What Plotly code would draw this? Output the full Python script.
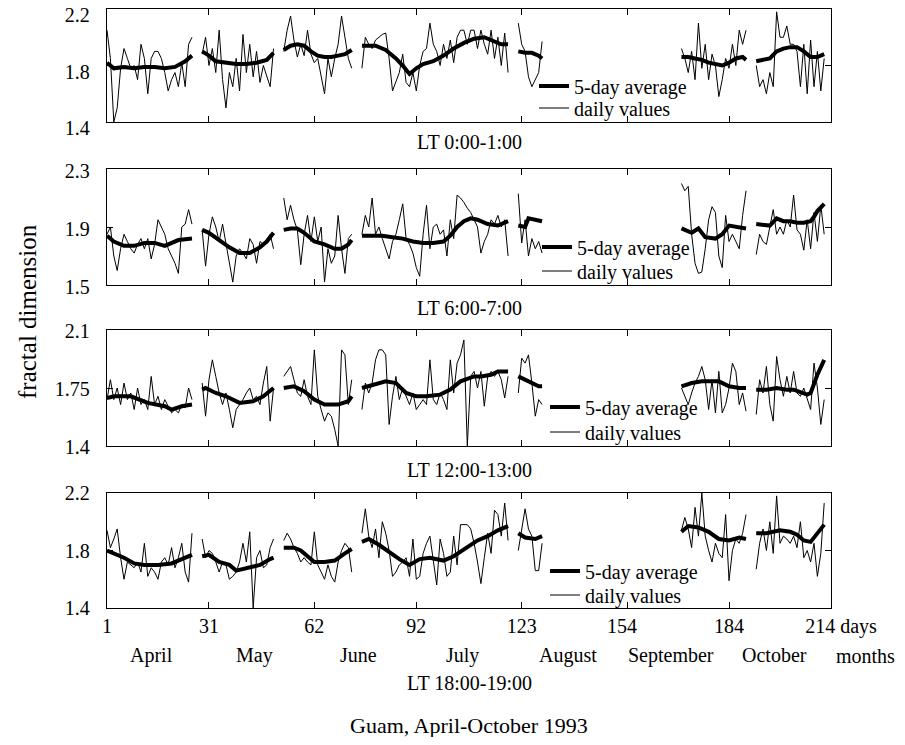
import plotly.graph_objects as go

# ---------------- data ----------------
# observation segments (first day, last day), day 1 = 1 April 1993
SEGMENTS = [(1, 26), (29, 50), (53, 73), (76, 119), (122, 129), (170, 189), (192, 212)]

NB = "\u00a0"
DAY_TICKS = [1, 31, 62, 92, 123, 154, 184, 214]
DAY_TICKTEXT = ["1", "31", "62", "92", "123", "154" + NB * 2, "184", NB * 4 + "214" + NB + "days"]
MONTHS = ["April", "May", "June", "July", "August", "September", "October"]
MONTH_START = [1, 31, 62, 92, 123, 154, 184, 215]
PANEL_TITLES = ["LT 0:00-1:00", "LT 6:00-7:00", "LT 12:00-13:00", "LT 18:00-19:00"]
Y_TICKS = [[1.4, 1.8, 2.2], [1.5, 1.9, 2.3], [1.4, 1.75, 2.1], [1.4, 1.8, 2.2]]
Y_TICKTEXT = [["1.4", "1.8", "2.2"], ["1.5", "1.9", "2.3"], ["1.4", "1.75", "2.1"], ["1.4", "1.8", "2.2"]]

# daily values, LT 0:00-1:00
daily_00 = [
    [2.05, 1.85, 1.40, 1.50, 1.78, 1.92, 1.85, 1.78, 1.80, 1.70, 1.95, 1.85, 1.60, 1.85, 1.90, 1.90, 1.85, 1.75, 1.62, 1.70, 1.75, 1.65, 1.82, 1.65, 1.95, 2.00],
    [1.88, 2.00, 1.80, 1.92, 1.75, 2.05, 1.70, 1.50, 1.75, 1.65, 1.85, 1.62, 2.02, 1.75, 1.95, 1.72, 1.90, 1.68, 1.80, 1.72, 1.65, 1.92],
    [1.90, 2.05, 2.15, 1.98, 1.86, 1.95, 1.87, 2.05, 1.88, 1.82, 1.85, 1.72, 1.60, 1.85, 1.72, 1.85, 1.95, 2.15, 2.00, 1.85, 1.78],
    [1.78, 2.00, 1.95, 1.92, 1.98, 2.00, 2.02, 2.03, 1.85, 1.62, 1.68, 1.75, 1.88, 1.68, 1.65, 1.75, 1.62, 1.80, 1.90, 1.92, 2.10, 1.95, 1.90, 1.80, 1.95, 1.85, 1.98, 1.82, 2.00, 2.05, 2.05, 1.95, 2.05, 2.05, 1.92, 2.05, 1.95, 1.88, 2.05, 1.85, 2.00, 1.80, 2.03, 1.75],
    [2.10, 1.95, 1.90, 1.72, 1.65, 1.70, 1.75, 1.97],
    [1.92, 1.85, 1.75, 1.90, 1.70, 2.10, 1.78, 1.95, 1.70, 1.88, 1.80, 1.58, 1.70, 1.85, 1.78, 1.95, 1.80, 2.05, 1.95, 2.05],
    [1.80, 1.65, 1.70, 1.60, 1.75, 1.65, 2.18, 2.00, 2.00, 2.08, 1.95, 1.95, 1.90, 1.65, 1.95, 1.60, 1.98, 1.65, 1.90, 1.62, 1.85],
]
avg_days_00 = [
    [1, 3, 6, 9, 12, 15, 18, 21, 24, 26],
    [29, 31, 33, 36, 39, 42, 45, 48, 50],
    [53, 55, 57, 59, 61, 63, 65, 67, 69, 71, 73],
    [76, 80, 83, 86, 88, 90, 92, 94, 97, 100, 103, 106, 109, 112, 115, 117, 119],
    [122, 124, 126, 128, 129],
    [170, 172, 174, 176, 178, 180, 182, 184, 186, 188, 189],
    [192, 194, 196, 198, 200, 202, 204, 206, 208, 210, 212],
]
avg_vals_00 = [
    [1.82, 1.78, 1.79, 1.78, 1.79, 1.79, 1.78, 1.79, 1.83, 1.87],
    [1.90, 1.87, 1.83, 1.82, 1.81, 1.81, 1.82, 1.84, 1.89],
    [1.91, 1.94, 1.95, 1.94, 1.90, 1.87, 1.86, 1.86, 1.87, 1.88, 1.91],
    [1.94, 1.94, 1.91, 1.85, 1.80, 1.74, 1.78, 1.81, 1.83, 1.87, 1.92, 1.96, 1.99, 2.00, 1.97, 1.95, 1.95],
    [1.90, 1.89, 1.89, 1.87, 1.85],
    [1.86, 1.86, 1.85, 1.84, 1.82, 1.81, 1.80, 1.82, 1.85, 1.86, 1.84],
    [1.83, 1.84, 1.85, 1.90, 1.92, 1.93, 1.93, 1.90, 1.86, 1.86, 1.88],
]

# LT 6:00-7:00
daily_06 = [
    [1.85, 1.90, 1.70, 1.60, 1.75, 1.85, 1.80, 1.75, 1.72, 1.78, 1.82, 1.75, 1.82, 1.68, 1.78, 1.95, 1.90, 1.85, 1.75, 1.70, 1.65, 1.58, 1.90, 1.92, 2.02, 1.92],
    [1.88, 1.63, 1.85, 1.97, 1.90, 1.80, 1.92, 1.78, 1.65, 1.52, 1.70, 1.75, 1.72, 1.68, 1.82, 1.78, 1.65, 1.80, 1.78, 1.82, 1.85, 1.75],
    [2.10, 1.95, 2.05, 1.95, 1.88, 1.64, 1.85, 1.98, 1.80, 1.97, 1.80, 1.90, 1.52, 1.75, 1.65, 1.70, 1.98, 1.75, 1.58, 1.82, 1.85],
    [1.85, 1.98, 1.90, 2.10, 1.85, 1.90, 1.82, 1.75, 1.68, 1.80, 1.85, 1.95, 2.06, 1.82, 1.78, 1.72, 1.62, 1.56, 1.85, 2.05, 1.75, 1.90, 1.92, 1.85, 1.88, 1.70, 1.95, 1.82, 2.12, 2.10, 2.07, 2.03, 2.00, 1.95, 1.90, 1.72, 1.80, 1.85, 1.95, 1.92, 1.98, 1.90, 1.95, 1.70],
    [2.13, 1.79, 1.95, 1.70, 1.82, 1.75, 1.80, 1.72],
    [2.20, 2.15, 2.18, 1.85, 1.65, 1.58, 1.59, 1.75, 1.95, 2.04, 2.00, 1.70, 1.62, 1.98, 1.80, 1.85, 1.80, 1.75, 1.98, 2.15],
    [1.71, 1.85, 1.80, 1.78, 1.90, 2.02, 1.85, 1.90, 1.85, 1.95, 1.90, 2.12, 1.88, 1.85, 1.74, 1.95, 1.75, 2.00, 1.80, 2.05, 1.85],
]
avg_days_06 = [
    [1, 3, 6, 9, 12, 15, 18, 20, 22, 26],
    [29, 31, 34, 37, 40, 43, 46, 48, 50],
    [53, 55, 57, 59, 62, 65, 68, 70, 72, 73],
    [76, 79, 82, 85, 88, 91, 94, 97, 100, 102, 104, 106, 108, 110, 113, 116, 119],
    [122, 124, 125, 127, 129],
    [170, 172, 173, 175, 177, 180, 182, 184, 186, 188, 189],
    [192, 196, 198, 200, 202, 204, 206, 208, 209, 210, 212],
]
avg_vals_06 = [
    [1.84, 1.80, 1.77, 1.77, 1.79, 1.79, 1.77, 1.79, 1.81, 1.82],
    [1.88, 1.86, 1.81, 1.76, 1.72, 1.72, 1.76, 1.80, 1.86],
    [1.88, 1.89, 1.89, 1.86, 1.80, 1.78, 1.75, 1.75, 1.78, 1.81],
    [1.84, 1.84, 1.84, 1.83, 1.82, 1.80, 1.79, 1.79, 1.80, 1.84, 1.90, 1.94, 1.96, 1.95, 1.92, 1.91, 1.94],
    [1.91, 1.90, 1.96, 1.95, 1.94],
    [1.89, 1.87, 1.86, 1.89, 1.83, 1.82, 1.85, 1.91, 1.90, 1.89, 1.89],
    [1.92, 1.91, 1.96, 1.94, 1.94, 1.93, 1.93, 1.94, 1.97, 2.01, 2.06],
]

# LT 12:00-13:00
daily_12 = [
    [1.68, 1.80, 1.68, 1.75, 1.65, 1.78, 1.68, 1.72, 1.62, 1.75, 1.65, 1.68, 1.62, 1.82, 1.65, 1.70, 1.62, 1.68, 1.64, 1.60, 1.62, 1.60, 1.65, 1.63, 1.75, 1.68],
    [1.78, 1.58, 1.80, 1.92, 1.82, 1.72, 1.65, 1.72, 1.62, 1.51, 1.62, 1.65, 1.68, 1.72, 1.75, 1.68, 1.70, 1.65, 1.78, 1.88, 1.55, 1.75],
    [1.82, 1.85, 1.88, 1.80, 1.72, 1.70, 1.80, 1.70, 1.65, 1.98, 1.70, 1.62, 1.55, 1.60, 1.58, 1.50, 1.40, 1.98, 1.95, 1.65, 1.80],
    [1.62, 1.78, 1.72, 1.78, 1.92, 1.98, 1.98, 1.95, 1.53, 1.70, 1.82, 1.68, 1.75, 1.70, 1.65, 1.72, 1.62, 1.65, 1.68, 1.65, 1.92, 1.68, 1.65, 1.72, 1.68, 1.62, 1.92, 1.72, 1.90, 1.95, 2.04, 1.40, 1.82, 1.85, 1.75, 1.85, 1.64, 1.82, 1.85, 1.82, 1.85, 1.80, 1.69, 1.82],
    [1.72, 1.93, 1.90, 1.95, 1.78, 1.58, 1.68, 1.65],
    [1.75, 1.70, 1.65, 1.72, 1.78, 1.82, 1.88, 1.80, 1.62, 1.80, 1.60, 1.85, 1.60, 1.65, 1.75, 1.90, 1.85, 1.65, 1.72, 1.61],
    [1.59, 1.80, 1.72, 1.88, 1.65, 1.55, 1.94, 1.80, 1.70, 1.82, 1.72, 1.85, 1.72, 1.70, 1.75, 1.68, 1.62, 1.90, 1.75, 1.53, 1.68],
]
avg_days_12 = [
    [1, 3, 8, 13, 18, 20, 23, 26],
    [29, 30, 33, 36, 40, 44, 47, 50],
    [53, 56, 59, 62, 65, 69, 72, 73],
    [76, 80, 83, 86, 89, 92, 95, 99, 102, 105, 109, 111, 114, 116, 119],
    [122, 124, 126, 128, 129],
    [170, 173, 176, 179, 181, 184, 187, 189],
    [192, 195, 198, 201, 203, 207, 208, 210, 212],
]
avg_vals_12 = [
    [1.69, 1.70, 1.70, 1.66, 1.64, 1.62, 1.64, 1.65],
    [1.74, 1.75, 1.72, 1.70, 1.66, 1.67, 1.70, 1.75],
    [1.75, 1.76, 1.73, 1.68, 1.65, 1.65, 1.67, 1.70],
    [1.75, 1.77, 1.79, 1.78, 1.72, 1.70, 1.70, 1.71, 1.74, 1.79, 1.82, 1.82, 1.83, 1.85, 1.85],
    [1.82, 1.80, 1.78, 1.76, 1.76],
    [1.76, 1.78, 1.79, 1.79, 1.79, 1.76, 1.75, 1.75],
    [1.74, 1.74, 1.75, 1.74, 1.74, 1.71, 1.72, 1.83, 1.92],
]

# LT 18:00-19:00
daily_18 = [
    [1.94, 1.82, 1.88, 1.95, 1.75, 1.60, 1.72, 1.70, 1.68, 1.72, 1.65, 1.85, 1.62, 1.68, 1.65, 1.60, 1.72, 1.75, 1.70, 1.82, 1.68, 1.75, 1.85, 1.65, 1.58, 1.92],
    [1.88, 1.75, 1.80, 1.78, 1.72, 1.65, 1.72, 1.70, 1.60, 1.62, 1.65, 1.72, 1.85, 1.72, 1.93, 1.40, 1.75, 1.80, 1.68, 1.70, 1.82, 1.88],
    [1.87, 1.92, 1.88, 1.82, 1.78, 1.72, 1.75, 1.72, 1.70, 1.93, 1.70, 1.65, 1.60, 1.70, 1.62, 1.58, 1.72, 1.80, 1.85, 1.82, 1.65],
    [1.92, 2.09, 1.90, 1.82, 1.95, 1.75, 2.00, 1.92, 1.80, 1.62, 1.65, 1.70, 1.72, 1.75, 1.62, 1.88, 1.60, 1.62, 1.78, 1.85, 1.90, 1.72, 1.56, 1.88, 1.78, 1.62, 1.65, 1.90, 1.70, 1.98, 1.98, 1.98, 1.95, 1.85, 1.72, 1.57, 1.75, 1.92, 1.78, 2.08, 2.05, 1.90, 2.13, 1.87],
    [1.80, 1.95, 2.09, 1.95, 1.90, 1.66, 1.66, 1.85],
    [1.94, 2.03, 1.95, 1.82, 2.10, 1.90, 2.20, 1.90, 1.80, 1.72, 1.85, 1.78, 1.75, 2.05, 1.59, 1.80, 1.88, 1.85, 1.92, 2.05],
    [1.67, 1.85, 1.95, 1.80, 2.00, 1.78, 2.18, 1.85, 1.90, 1.88, 1.85, 1.90, 1.82, 2.00, 1.75, 1.80, 1.72, 1.85, 1.62, 1.78, 2.13],
]
avg_days_18 = [
    [1, 3, 6, 9, 12, 16, 20, 23, 26],
    [29, 31, 34, 37, 39, 42, 46, 49, 50],
    [53, 56, 58, 62, 65, 68, 71, 73],
    [76, 78, 81, 84, 87, 90, 93, 96, 100, 103, 106, 110, 113, 116, 119],
    [122, 124, 127, 129],
    [170, 172, 175, 178, 181, 184, 187, 189],
    [192, 195, 199, 202, 204, 206, 208, 210, 212],
]
avg_vals_18 = [
    [1.80, 1.78, 1.75, 1.71, 1.70, 1.70, 1.71, 1.74, 1.77],
    [1.76, 1.77, 1.72, 1.70, 1.66, 1.68, 1.70, 1.74, 1.75],
    [1.82, 1.82, 1.80, 1.72, 1.72, 1.73, 1.78, 1.81],
    [1.86, 1.88, 1.84, 1.79, 1.74, 1.70, 1.74, 1.75, 1.73, 1.76, 1.81, 1.87, 1.90, 1.94, 1.97],
    [1.92, 1.89, 1.88, 1.90],
    [1.93, 1.97, 1.96, 1.93, 1.88, 1.87, 1.89, 1.88],
    [1.92, 1.92, 1.94, 1.93, 1.91, 1.87, 1.86, 1.92, 1.98],
]

DAILY = [daily_00, daily_06, daily_12, daily_18]
AVG_DAYS = [avg_days_00, avg_days_06, avg_days_12, avg_days_18]
AVG_VALS = [avg_vals_00, avg_vals_06, avg_vals_12, avg_vals_18]

# ---------------- layout geometry ----------------
# positions are given in page pixels of the reference; the page body adds 8px
OFF = 8
W, H = 905 - 2 * OFF, 745 - 2 * OFF
FRAME_L, FRAME_R, FRAME_T, FRAME_B = 107, 831, 9, 608
ML = FRAME_L - OFF
MR = W - (FRAME_R - OFF)
MT = FRAME_T - OFF
MB = H - (FRAME_B - OFF)
PW, PH = W - ML - MR, H - MT - MB
PANEL_TOP = [9, 169, 330, 493]
PANEL_BOT = [122, 285, 446, 608]
YLABEL_SHIFT = [6, 2, 1, 0]
LEG_LINE_X = [542, 545, 553, 553]
LEG_ROW_Y = [(86, 108), (247, 271), (407, 432), (571, 595)]
TITLE_Y = [142, 308, 470, 683]
SERIF = "Liberation Serif"
FS = 20


def py(y):
    return 1 - ((y - OFF) - MT) / PH


def px(x):
    return ((x - OFF) - ML) / PW


def join_segments(xs_list, ys_list):
    xs, ys = [], []
    for i, (sx, sy) in enumerate(zip(xs_list, ys_list)):
        if i:
            xs.append(None)
            ys.append(None)
        xs.extend(sx)
        ys.extend(sy)
    return xs, ys


def legend_id(k):
    return "legend" if k == 0 else "legend" + str(k + 1)


fig = go.Figure()
layout = dict(
    width=W, height=H,
    margin=dict(l=ML, r=MR, t=MT, b=MB, autoexpand=False),
    paper_bgcolor="white", plot_bgcolor="white",
    font=dict(family=SERIF, size=FS, color="black"),
    showlegend=True,
    annotations=[],
)

for p in range(4):
    sfx = "" if p == 0 else str(p + 1)
    leg_avg, leg_day = legend_id(2 * p), legend_id(2 * p + 1)
    seg_days = [list(range(a, b + 1)) for a, b in SEGMENTS]
    dx, dy = join_segments(seg_days, DAILY[p])
    ax, ay = join_segments(AVG_DAYS[p], AVG_VALS[p])
    fig.add_trace(go.Scatter(
        x=dx, y=dy, mode="lines", name="daily values",
        line=dict(color="black", width=1), connectgaps=False,
        xaxis="x" + sfx, yaxis="y" + sfx, legend=leg_day, showlegend=True,
    ))
    fig.add_trace(go.Scatter(
        x=ax, y=ay, mode="lines", name="5-day average",
        line=dict(color="black", width=4), connectgaps=False,
        xaxis="x" + sfx, yaxis="y" + sfx, legend=leg_avg, showlegend=True,
    ))
    dom = [py(PANEL_BOT[p]), py(PANEL_TOP[p])]
    layout["xaxis" + sfx] = dict(
        domain=[0, 1], range=[1, 214], anchor="y" + sfx,
        tickmode="array", tickvals=DAY_TICKS, ticktext=DAY_TICKTEXT,
        showticklabels=(p == 3), ticks="inside", ticklen=6, tickcolor="black",
        showline=True, mirror="ticks", linecolor="black", linewidth=1.4,
        showgrid=False, zeroline=False, ticklabeloverflow="allow",
        tickfont=dict(family=SERIF, size=FS),
    )
    layout["yaxis" + sfx] = dict(
        domain=dom, range=[Y_TICKS[p][0], Y_TICKS[p][-1]], anchor="x" + sfx,
        tickmode="array", tickvals=Y_TICKS[p], ticktext=Y_TICKTEXT[p],
        ticks="inside", ticklen=6, tickcolor="black", ticklabelstandoff=12,
        ticklabelshift=YLABEL_SHIFT[p], ticklabeloverflow="allow",
        showline=True, mirror="ticks", linecolor="black", linewidth=1.4,
        showgrid=False, zeroline=False,
        tickfont=dict(family=SERIF, size=FS),
    )
    for lid, row_y in ((leg_avg, LEG_ROW_Y[p][0]), (leg_day, LEG_ROW_Y[p][1])):
        layout[lid] = dict(
            x=px(LEG_LINE_X[p] - 8), y=py(row_y), xanchor="left", yanchor="middle",
            xref="paper", yref="paper", visible=True,
            bgcolor="rgba(0,0,0,0)", borderwidth=0, itemwidth=30,
            font=dict(family=SERIF, size=FS, color="black"),
        )
    layout["annotations"].append(dict(
        text=PANEL_TITLES[p], x=0.5, y=py(TITLE_Y[p]), xref="paper", yref="paper",
        xanchor="center", yanchor="middle", showarrow=False,
        font=dict(family=SERIF, size=FS),
    ))

# month names under the day axis
for i, m in enumerate(MONTHS):
    mid = (MONTH_START[i] + MONTH_START[i + 1]) / 2 - 2
    layout["annotations"].append(dict(
        text=m, x=mid, y=py(655), xref="x4", yref="paper",
        xanchor="center", yanchor="middle", showarrow=False,
        font=dict(family=SERIF, size=FS),
    ))

layout["annotations"] += [
    dict(text="months", x=px(866), y=py(656), xref="paper", yref="paper",
         xanchor="center", yanchor="middle", showarrow=False, font=dict(family=SERIF, size=FS)),
    dict(text="fractal dimension", x=px(27), y=py(312), xref="paper", yref="paper",
         xanchor="center", yanchor="middle", textangle=-90, showarrow=False,
         font=dict(family=SERIF, size=25)),
    dict(text="Guam, April-October 1993", x=0.5, y=py(725), xref="paper", yref="paper",
         xanchor="center", yanchor="middle", showarrow=False, font=dict(family=SERIF, size=22)),
]

fig.update_layout(**layout)
fig.write_html("out.html")
